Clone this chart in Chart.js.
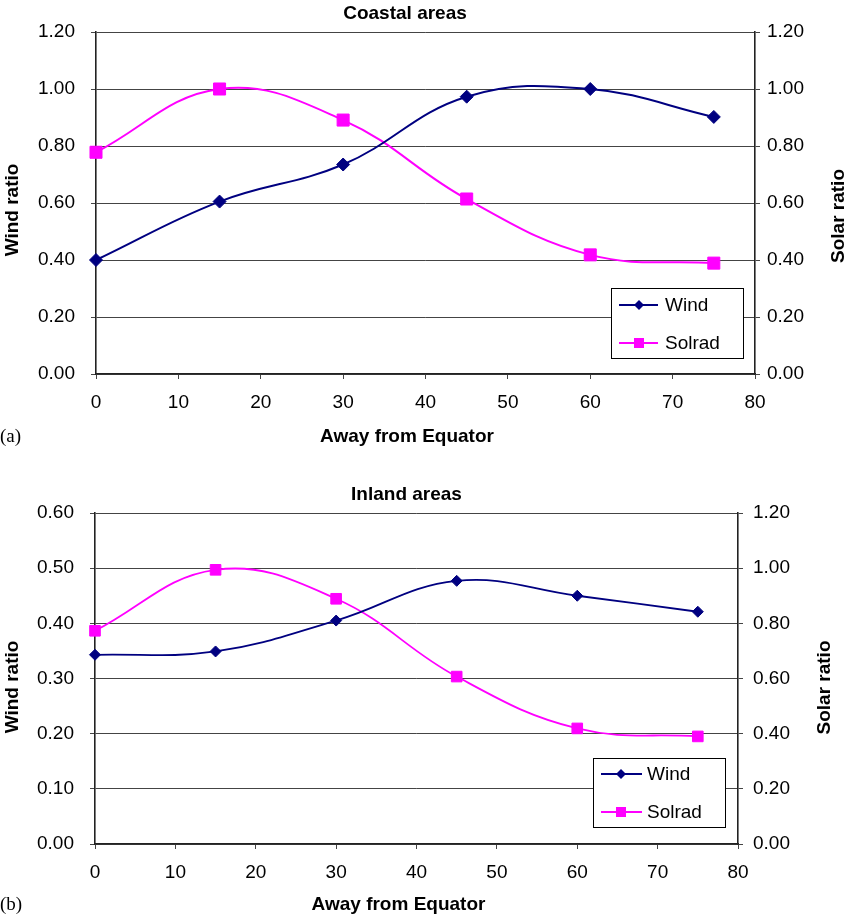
<!DOCTYPE html>
<html>
<head>
<meta charset="utf-8">
<script src="https://cdn.jsdelivr.net/npm/chart.js@4"></script>
<style>
  body { margin: 0; background: #fff; }
  .box { position: absolute; left: 0; width: 850px; }
  #boxA { top: 0; height: 460px; }
  #boxB { top: 460px; height: 455px; }
</style>
</head>
<body>
<div class="box" id="boxA"><canvas id="chartA"></canvas></div>
<div class="box" id="boxB"><canvas id="chartB"></canvas></div>
<script>
// degrees away from the equator
const latitudes = [0, 15, 30, 45, 60, 75];

const coastalWind   = [0.400, 0.605, 0.735, 0.973, 1.000, 0.902];
const coastalSolrad = [0.778, 1.000, 0.891, 0.614, 0.418, 0.389];

const inlandWind   = [0.343, 0.349, 0.405, 0.477, 0.450, 0.421];
const inlandSolrad = [0.773, 0.994, 0.889, 0.607, 0.419, 0.390];

const seriesNames = ["Wind", "Solrad"];

const FONT = "'Liberation Sans', Arial, sans-serif";
const NAVY = "#000080";
const MAGENTA = "#FF00FF";

Chart.defaults.font.family = FONT;
Chart.defaults.color = "#000";

function toPoints(ys) {
  return latitudes.map((x, i) => ({ x, y: ys[i] }));
}

// free text (titles, axis names, panel letter)
const textPlugin = {
  id: "texts",
  afterDraw(chart, args, opts) {
    const ctx = chart.ctx;
    opts.items.forEach(t => {
      ctx.save();
      ctx.font = t.font;
      ctx.fillStyle = "#000";
      ctx.textAlign = t.align || "center";
      ctx.textBaseline = "middle";
      ctx.translate(t.x, t.y);
      if (t.rotate) ctx.rotate(-Math.PI / 2);
      ctx.fillText(t.text, 0, 0);
      ctx.restore();
    });
  }
};

// boxed legend inside the plot, bottom right
const boxLegend = {
  id: "boxLegend",
  afterDatasetsDraw(chart, args, opts) {
    const { ctx, chartArea } = chart;
    const w = 132, h = opts.height;
    const x0 = chartArea.right - opts.right - w;
    const y0 = chartArea.bottom - opts.bottom - h;
    ctx.save();
    ctx.fillStyle = "#fff";
    ctx.fillRect(x0, y0, w, h);
    ctx.strokeStyle = "#000";
    ctx.lineWidth = 1;
    ctx.strokeRect(x0 + 0.5, y0 + 0.5, w, h);
    chart.data.datasets.forEach((ds, i) => {
      const cy = y0 + opts.rowTop + i * 38;
      ctx.strokeStyle = ds.borderColor;
      ctx.lineWidth = 2;
      ctx.beginPath();
      ctx.moveTo(x0 + 8, cy);
      ctx.lineTo(x0 + opts.lineEnd, cy);
      ctx.stroke();
      const mx = x0 + 28;
      ctx.fillStyle = ds.borderColor;
      ctx.beginPath();
      if (ds.pointStyle === "rectRot") {
        ctx.moveTo(mx - 5, cy);
        ctx.lineTo(mx, cy - 5);
        ctx.lineTo(mx + 5, cy);
        ctx.lineTo(mx, cy + 5);
        ctx.closePath();
      } else {
        ctx.rect(mx - 5, cy - 5, 10, 10);
      }
      ctx.fill();
      ctx.fillStyle = "#000";
      ctx.font = "19px " + FONT;
      ctx.textAlign = "left";
      ctx.textBaseline = "middle";
      ctx.fillText(ds.label, x0 + 54, cy + 1);
    });
    ctx.restore();
  }
};

function buildChart(id, p) {
  const tickFont = { size: 19, family: FONT };
  const gridColor = "#444";
  const axisBorder = { color: "#222", width: 1.6 };
  return new Chart(document.getElementById(id), {
    type: "line",
    data: {
      datasets: [
        {
          label: seriesNames[0],
          data: toPoints(p.wind),
          yAxisID: "y",
          borderColor: NAVY,
          backgroundColor: NAVY,
          borderWidth: p.lineWidth,
          pointStyle: "rectRot",
          pointRadius: p.diamond,
          pointBorderWidth: 1,
          tension: 0.4,
          clip: false
        },
        {
          label: seriesNames[1],
          data: toPoints(p.solrad),
          yAxisID: "y2",
          borderColor: MAGENTA,
          backgroundColor: MAGENTA,
          borderWidth: p.lineWidth,
          pointStyle: "rect",
          pointRadius: p.square,
          pointBorderWidth: 1,
          tension: 0.4,
          clip: false
        }
      ]
    },
    options: {
      responsive: true,
      maintainAspectRatio: false,
      animation: false,
      layout: { padding: { top: p.padTop, left: 0, right: 0, bottom: 0 } },
      plugins: {
        legend: { display: false },
        tooltip: { enabled: false },
        texts: { items: p.texts },
        boxLegend: p.legend
      },
      scales: {
        x: {
          type: "linear",
          min: 0,
          max: 80,
          ticks: { stepSize: 10, font: tickFont, padding: 12, color: "#000" },
          grid: { drawOnChartArea: false, tickLength: 5, color: gridColor },
          border: axisBorder,
          afterFit: s => { s.height = p.xHeight; }
        },
        y: {
          position: "left",
          min: 0,
          max: p.leftMax,
          ticks: {
            stepSize: p.leftStep,
            font: tickFont,
            padding: 16,
            color: "#000",
            callback: v => v.toFixed(2)
          },
          grid: { color: gridColor, tickLength: 5, lineWidth: 1 },
          border: axisBorder,
          afterFit: s => { s.width = p.leftWidth; }
        },
        y2: {
          position: "right",
          min: 0,
          max: 1.2,
          ticks: {
            stepSize: 0.2,
            font: tickFont,
            padding: p.rightPad,
            color: "#000",
            callback: v => v.toFixed(2)
          },
          grid: { drawOnChartArea: false, tickLength: 5, color: gridColor },
          border: axisBorder,
          afterFit: s => { s.width = p.rightWidth; }
        }
      }
    },
    plugins: [textPlugin, boxLegend]
  });
}

const bold = "bold 19px " + FONT;
const serif = "19px 'Liberation Serif', 'Times New Roman', serif";

buildChart("chartA", {
  wind: coastalWind,
  solrad: coastalSolrad,
  leftMax: 1.2,
  leftStep: 0.2,
  leftWidth: 96,
  rightWidth: 95,
  rightPad: 7,
  xHeight: 86,
  padTop: 32,
  lineWidth: 2,
  diamond: 6.5,
  square: 8.5,
  legend: { right: 12, bottom: 16, height: 70, rowTop: 17, lineEnd: 47 },
  texts: [
    { text: "Coastal areas", x: 405, y: 14, font: bold },
    { text: "Away from Equator", x: 407, y: 437, font: bold },
    { text: "Wind ratio", x: 12.5, y: 210, font: bold, rotate: true },
    { text: "Solar ratio", x: 839, y: 216, font: bold, rotate: true },
    { text: "(a)", x: 0, y: 437, font: serif, align: "left" }
  ]
});

buildChart("chartB", {
  wind: inlandWind,
  solrad: inlandSolrad,
  leftMax: 0.6,
  leftStep: 0.1,
  leftWidth: 95,
  rightWidth: 112,
  rightPad: 10,
  xHeight: 71,
  padTop: 53,
  lineWidth: 1.8,
  diamond: 5.5,
  square: 7.5,
  legend: { right: 13, bottom: 17, height: 69, rowTop: 16, lineEnd: 49 },
  texts: [
    { text: "Inland areas", x: 406.5, y: 35, font: bold },
    { text: "Away from Equator", x: 398.5, y: 445, font: bold },
    { text: "Wind ratio", x: 12.5, y: 227, font: bold, rotate: true },
    { text: "Solar ratio", x: 824.5, y: 227.5, font: bold, rotate: true },
    { text: "(b)", x: 0, y: 445, font: serif, align: "left" }
  ]
});
</script>
</body>
</html>
